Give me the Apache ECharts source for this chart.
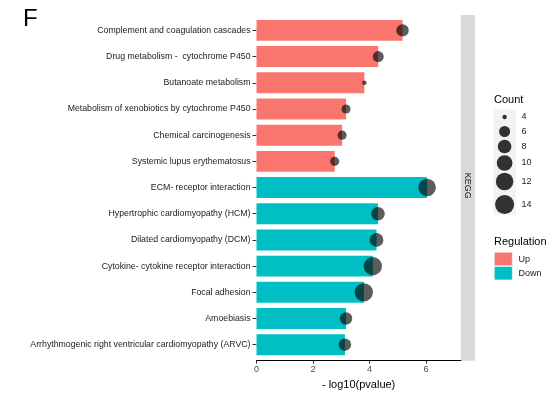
<!DOCTYPE html>
<html>
<head>
<meta charset="utf-8">
<script src="https://cdn.jsdelivr.net/npm/echarts@6/dist/echarts.min.js"></script>
<style>
  html, body { margin: 0; padding: 0; background: #fff; }
  #chart { width: 560px; height: 396px; }
</style>
</head>
<body>
<div id="chart"></div>
<script>
// KEGG pathways, top to bottom
const pathways = [
  'Complement and coagulation cascades',
  'Drug metabolism -  cytochrome P450',
  'Butanoate metabolism',
  'Metabolism of xenobiotics by cytochrome P450',
  'Chemical carcinogenesis',
  'Systemic lupus erythematosus',
  'ECM- receptor interaction',
  'Hypertrophic cardiomyopathy (HCM)',
  'Dilated cardiomyopathy (DCM)',
  'Cytokine- cytokine receptor interaction',
  'Focal adhesion',
  'Amoebiasis',
  'Arrhythmogenic right ventricular cardiomyopathy (ARVC)'
];
// -log10(pvalue) per pathway
const negLogP = [5.17, 4.31, 3.82, 3.17, 3.03, 2.77, 6.04, 4.30, 4.25, 4.12, 3.80, 3.17, 3.13];
// gene count per pathway
const geneCount = [7, 6, 4, 5, 5, 5, 12, 8, 8, 13, 13, 7, 7];
// regulation direction per pathway
const regulation = ['Up', 'Up', 'Up', 'Up', 'Up', 'Up',
                    'Down', 'Down', 'Down', 'Down', 'Down', 'Down', 'Down'];
const countBreaks = [4, 6, 8, 10, 12, 14];
const regLevels = ['Up', 'Down'];
const xTickStep = 2;

const regColor = { Up: '#F8766D', Down: '#00BFC4' };
const dotColor = 'rgba(0,0,0,0.8)';
const FONT = '"Liberation Sans", Arial, sans-serif';

// area-style size scale for the count dots
function dotSize(c) {
  const t = Math.max(0, (c - 4) / 10);
  return 4.5 + 14.5 * Math.sqrt(t);
}

const upBars = negLogP.map((v, i) => regulation[i] === 'Up' ? v : '-');
const downBars = negLogP.map((v, i) => regulation[i] === 'Down' ? v : '-');
const dots = negLogP.map((v, i) => [v, pathways[i]]);

// panel geometry
const panel = { left: 256.5, right: 460.7, top: 15, bottom: 360.7 };
const bandTop = 17.3, bandBottom = 357.8;

// legend: Count
const legendX = 494;
const countRowsY = [117, 131.5, 146.5, 163, 181.5, 204.5];
const legendGraphics = [
  { type: 'text', left: legendX, top: 94,
    style: { text: 'Count', font: '11px ' + FONT, fill: '#000' } },
  { type: 'rect', shape: { x: 493.3, y: 109.5, width: 22.4, height: 105.5 },
    style: { fill: '#F2F2F2' } }
];
countBreaks.forEach((c, i) => {
  const r = dotSize(c) / 2;
  legendGraphics.push({ type: 'circle', shape: { cx: 504.6, cy: countRowsY[i], r: r },
    style: { fill: dotColor } });
  legendGraphics.push({ type: 'text', x: 521.5, y: countRowsY[i],
    style: { text: String(c), font: '9px ' + FONT, fill: '#1A1A1A',
             verticalAlign: 'middle', align: 'left' } });
});
// legend: Regulation
legendGraphics.push({ type: 'text', left: legendX, top: 236,
  style: { text: 'Regulation', font: '11px ' + FONT, fill: '#000' } });
regLevels.forEach((lvl, i) => {
  const y0 = 252.3 + i * 14.2;
  legendGraphics.push({ type: 'rect', shape: { x: 494.3, y: y0, width: 18, height: 13.4 },
    style: { fill: regColor[lvl], stroke: '#fff', lineWidth: 0.5 } });
  legendGraphics.push({ type: 'text', x: 518.5, y: y0 + 7,
    style: { text: lvl, font: '9px ' + FONT, fill: '#1A1A1A',
             verticalAlign: 'middle', align: 'left' } });
});

const chart = echarts.init(document.getElementById('chart'), null, { renderer: 'canvas' });
chart.setOption({
  animation: false,
  backgroundColor: '#fff',
  textStyle: { fontFamily: FONT },
  grid: {
    left: panel.left,
    right: 560 - panel.right,
    top: bandTop,
    bottom: 396 - bandBottom
  },
  xAxis: {
    type: 'value',
    min: 0,
    max: 7.23,
    interval: xTickStep,
    offset: panel.bottom - bandBottom,
    splitLine: { show: false },
    axisLine: { show: true, lineStyle: { color: '#000', width: 1.1 } },
    axisTick: { show: true, length: 3, lineStyle: { color: '#333' } },
    axisLabel: { fontSize: 9, color: '#4D4D4D', margin: 4.5, showMaxLabel: false },
    name: '- log10(pvalue)',
    nameLocation: 'middle',
    nameGap: 16,
    nameTextStyle: { fontSize: 11, color: '#000', verticalAlign: 'top' }
  },
  yAxis: {
    type: 'category',
    data: pathways,
    inverse: true,
    axisLine: { show: false },
    axisTick: { show: true, length: 4, alignWithLabel: true, lineStyle: { color: '#333' } },
    axisLabel: { fontSize: 8.75, color: '#1A1A1A', margin: 6 },
    splitLine: { show: false }
  },
  graphic: [
    // facet strip
    { type: 'rect', shape: { x: panel.right, y: panel.top, width: 14.3, height: panel.bottom - panel.top },
      style: { fill: '#D9D9D9' } },
    { type: 'text', x: panel.right + 7.2, y: (panel.top + panel.bottom) / 2 - 2, rotation: -Math.PI / 2,
      style: { text: 'KEGG', font: '9px ' + FONT, fill: '#1A1A1A',
               align: 'center', verticalAlign: 'middle' } },
    // panel tag
    { type: 'text', left: 23, top: 7,
      style: { text: 'F', font: '24px ' + FONT, fill: '#000' } }
  ].concat(legendGraphics),
  series: [
    {
      name: 'Up', type: 'bar', stack: 'reg', data: upBars, barWidth: '80%',
      itemStyle: { color: regColor.Up }, z: 2
    },
    {
      name: 'Down', type: 'bar', stack: 'reg', data: downBars, barWidth: '80%',
      itemStyle: { color: regColor.Down }, z: 2
    },
    {
      name: 'Count', type: 'scatter', data: dots,
      symbolSize: (val, params) => dotSize(geneCount[params.dataIndex]),
      itemStyle: { color: dotColor }, z: 5
    }
  ]
});
</script>
</body>
</html>
